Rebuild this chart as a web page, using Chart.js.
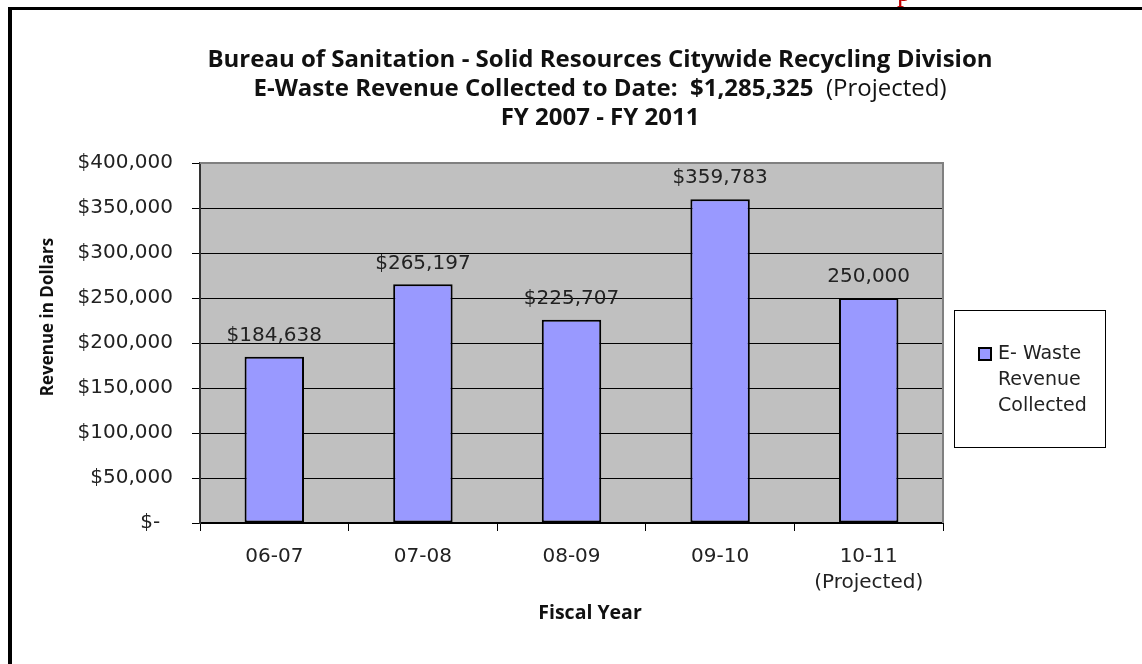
<!DOCTYPE html>
<html>
<head>
<meta charset="utf-8">
<script src="https://cdn.jsdelivr.net/npm/chart.js@4"></script>
<style>
  html, body { margin: 0; padding: 0; background: #fff; }
  canvas { display: block; }
</style>
</head>
<body>
<canvas id="myChart" width="1142" height="664"></canvas>
<script>
const categories = ['06-07', '07-08', '08-09', '09-10', ['10-11', '(Projected)']];
const revenue = [184638, 265197, 225707, 359783, 250000];
const valueLabels = ['$184,638', '$265,197', '$225,707', '$359,783', '250,000'];
const titleLine1 = 'Bureau of Sanitation - Solid Resources Citywide Recycling Division';
const titleLine2 = ['E-Waste Revenue Collected to Date:  ', '$1,285,325', '  (Projected)'];
const titleLine3 = 'FY 2007 - FY 2011';
const legendLines = ['E- Waste', 'Revenue', 'Collected'];
const yTitle = 'Revenue in Dollars';
const xTitle = 'Fiscal Year';

const tickFont = 'DejaVu Sans';
const boldFont = 'Open Sans';

function money(v) {
  if (v === 0) return '$-  ';
  return '$' + v.toLocaleString('en-US');
}

// frame, plot background, titles, legend, value labels
const decorations = {
  id: 'decorations',
  beforeDraw(chart) {
    const ctx = chart.ctx;
    const a = chart.chartArea;
    ctx.save();
    ctx.fillStyle = '#fff';
    ctx.fillRect(0, 0, chart.width, chart.height);

    // outer frame (top and left only are visible)
    ctx.fillStyle = '#000';
    ctx.fillRect(8, 7, chart.width - 8, 3);
    ctx.fillRect(8, 7, 4, chart.height - 7);

    // red letter peeking above the frame
    ctx.fillStyle = '#c00000';
    ctx.font = '28px "Liberation Serif"';
    ctx.textAlign = 'left';
    ctx.textBaseline = 'alphabetic';
    ctx.fillText('p', 897, 1);

    ctx.fillStyle = '#c0c0c0';
    ctx.fillRect(a.left, a.top, a.right - a.left, a.bottom - a.top);
    ctx.restore();
  },
  beforeDatasetsDraw(chart) {
    const ctx = chart.ctx;
    const a = chart.chartArea;
    ctx.save();
    ctx.strokeStyle = '#808080';
    ctx.lineWidth = 2;
    ctx.beginPath();
    ctx.moveTo(a.left, a.top);
    ctx.lineTo(a.right, a.top);
    ctx.lineTo(a.right, a.bottom);
    ctx.stroke();
    ctx.restore();
  },
  afterDraw(chart) {
    const ctx = chart.ctx;
    ctx.save();
    ctx.fillStyle = '#111';
    ctx.textBaseline = 'middle';

    // titles
    ctx.textAlign = 'center';
    ctx.font = 'bold 24px "' + boldFont + '"';
    ctx.fillText(titleLine1, 600, 60);
    ctx.fillText(titleLine3, 600, 118);

    const fonts2 = ['bold 24px "' + boldFont + '"', 'bold 24px "' + boldFont + '"', '24px "' + boldFont + '"'];
    let total = 0;
    const widths = titleLine2.map(function(t, i) {
      ctx.font = fonts2[i];
      const w = ctx.measureText(t).width;
      total += w;
      return w;
    });
    let x = 600 - total / 2;
    ctx.textAlign = 'left';
    titleLine2.forEach(function(t, i) {
      ctx.font = fonts2[i];
      ctx.fillText(t, x, 89);
      x += widths[i];
    });

    // axis titles
    ctx.textAlign = 'center';
    ctx.font = 'bold 19.5px "' + boldFont + '"';
    ctx.fillText(xTitle, 590, 613);
    ctx.font = 'bold 17px "' + boldFont + '"';
    ctx.save();
    ctx.translate(48, 317);
    ctx.rotate(-Math.PI / 2);
    ctx.fillText(yTitle, 0, 0);
    ctx.restore();

    // value labels above bars
    ctx.font = '20px "' + tickFont + '"';
    ctx.fillStyle = '#222';
    const meta = chart.getDatasetMeta(0);
    meta.data.forEach(function(bar, i) {
      ctx.fillText(valueLabels[i], bar.x, bar.y - 21);
    });

    // legend
    ctx.fillStyle = '#fff';
    ctx.fillRect(954, 310, 151, 137);
    ctx.strokeStyle = '#000';
    ctx.lineWidth = 1;
    ctx.strokeRect(954.5, 310.5, 151, 137);
    ctx.fillStyle = '#9999ff';
    ctx.fillRect(979, 348, 12, 12);
    ctx.lineWidth = 2;
    ctx.strokeRect(979, 348, 12, 12);
    ctx.fillStyle = '#222';
    ctx.textAlign = 'left';
    ctx.font = '19px "' + tickFont + '"';
    legendLines.forEach(function(t, i) {
      ctx.fillText(t, 998, 354 + i * 26);
    });
    ctx.restore();
  }
};

const ctx = document.getElementById('myChart').getContext('2d');
const chart = new Chart(ctx, {
  type: 'bar',
  data: {
    labels: categories,
    datasets: [{
      label: 'E- Waste Revenue Collected',
      data: revenue,
      backgroundColor: '#9999ff',
      borderColor: '#000',
      borderWidth: 2,
      borderSkipped: false,
      barPercentage: 0.4,
      categoryPercentage: 1
    }]
  },
  options: {
    responsive: false,
    animation: false,
    devicePixelRatio: 1,
    layout: { padding: { top: 163, right: 199, left: 0, bottom: 0 } },
    plugins: {
      legend: { display: false },
      title: { display: false },
      tooltip: { enabled: false }
    },
    scales: {
      x: {
        afterFit: function(scale) { scale.height = 141; },
        grid: {
          drawOnChartArea: false,
          tickLength: 8,
          tickColor: '#000',
          offset: true
        },
        border: { color: '#000', width: 2 },
        ticks: {
          color: '#222',
          padding: 13,
          font: { family: tickFont, size: 20, lineHeight: 1.3 }
        }
      },
      y: {
        min: 0,
        max: 400000,
        afterFit: function(scale) { scale.width = 200; },
        grid: {
          color: function(c) { return c.tick && c.tick.value === 400000 ? '#808080' : '#000'; },
          tickColor: '#000',
          tickLength: 8,
          lineWidth: 1
        },
        border: { color: '#333', width: 2 },
        ticks: {
          stepSize: 50000,
          color: '#222',
          padding: 19,
          font: { family: tickFont, size: 20 },
          callback: function(v) { return money(v); }
        }
      }
    }
  },
  plugins: [decorations]
});
</script>
</body>
</html>
